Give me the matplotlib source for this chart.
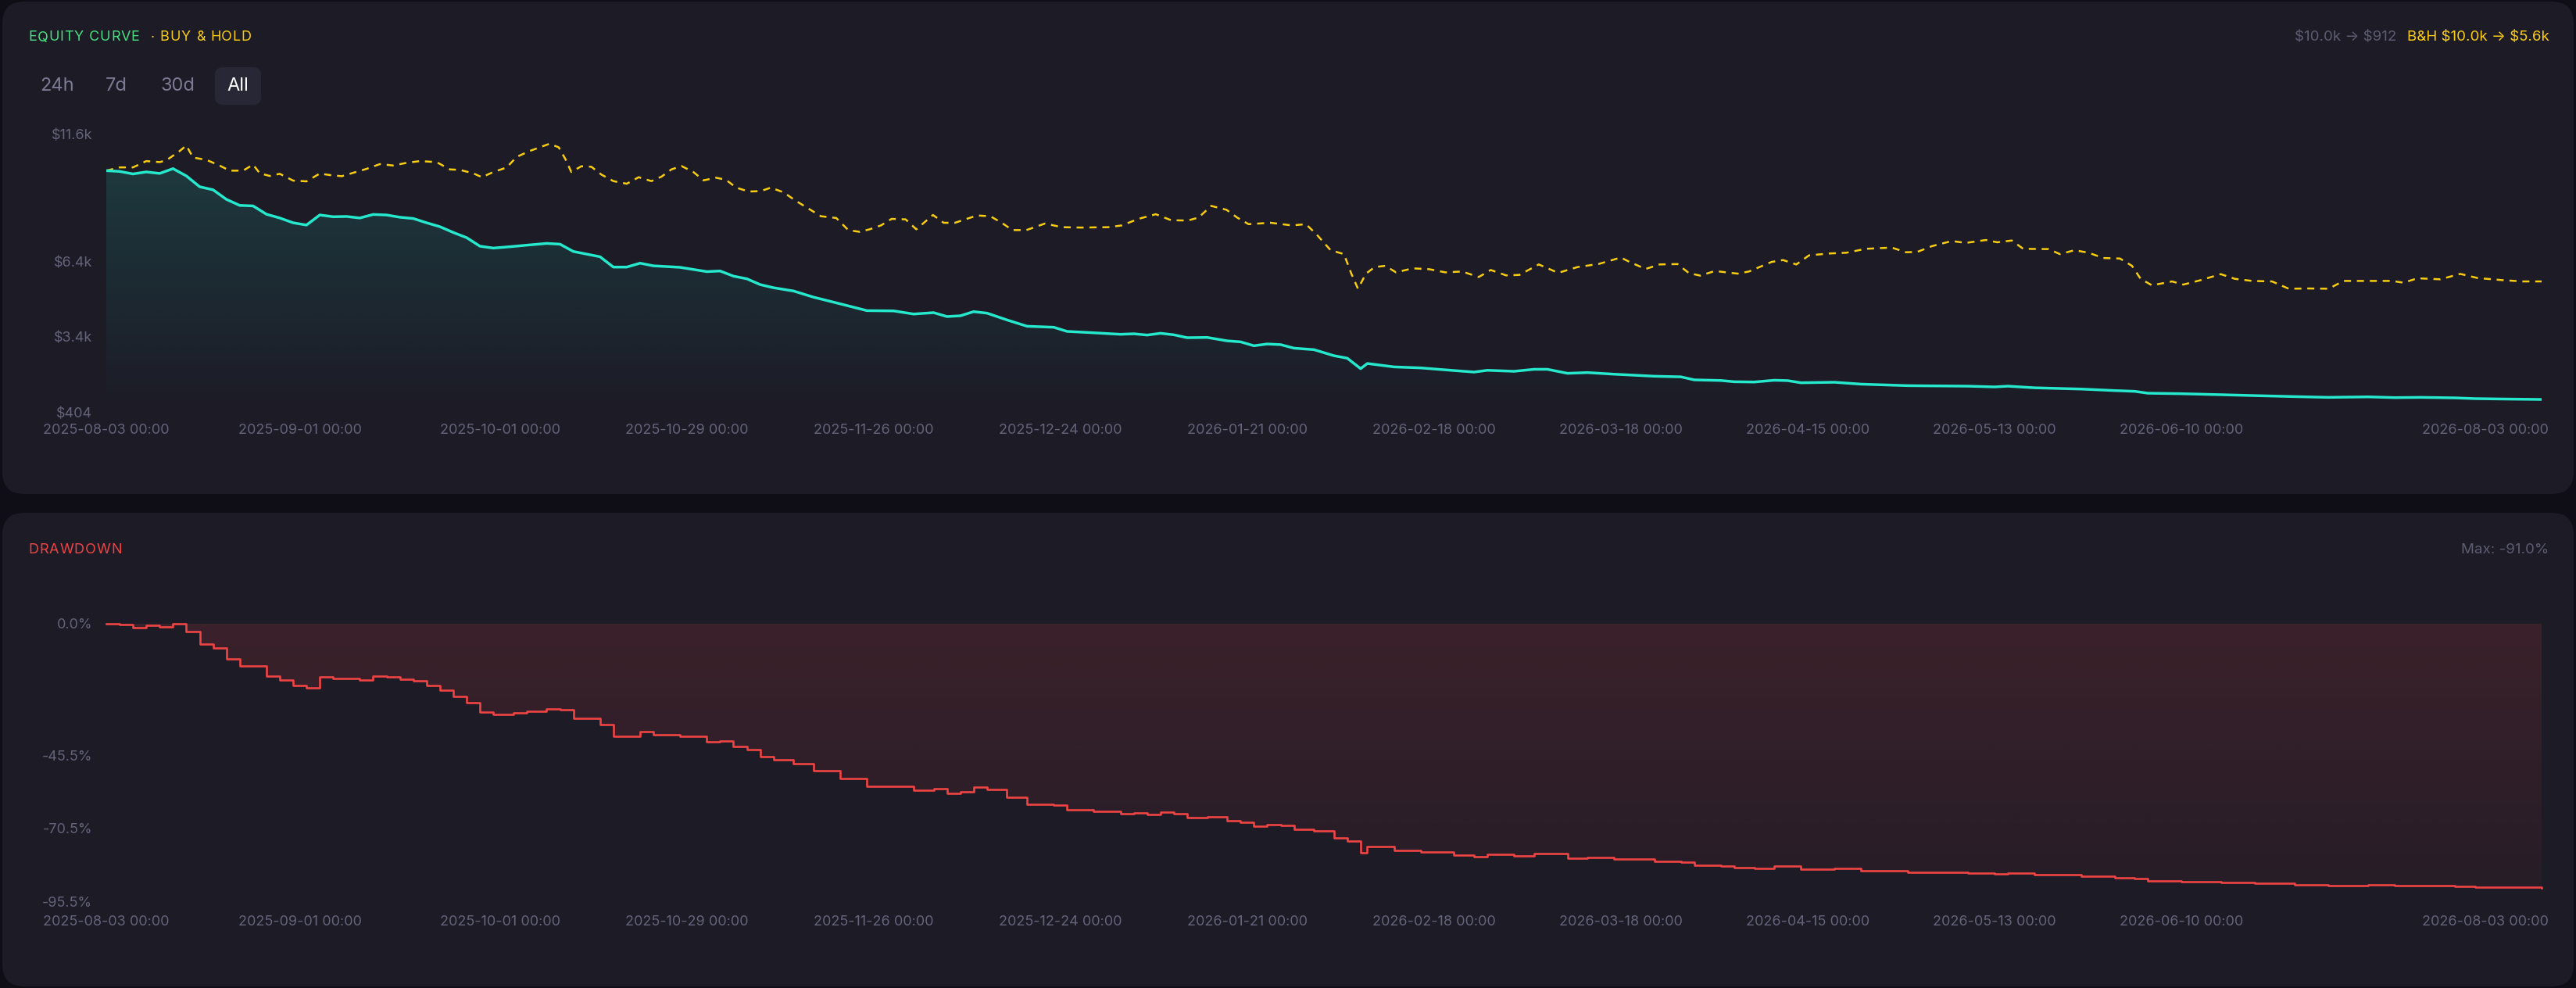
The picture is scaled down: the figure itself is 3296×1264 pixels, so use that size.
import numpy as np
import matplotlib
matplotlib.use("Agg")
import matplotlib.pyplot as plt
import matplotlib.colors as mcolors
import matplotlib.transforms as mt
from matplotlib.patches import FancyBboxPatch

plt.rcParams['font.family'] = ['Inter', 'DejaVu Sans']

# ---------------- data ----------------
start_date = "2025-08-03"
tick_dates = ["2025-08-03", "2025-09-01", "2025-10-01", "2025-10-29", "2025-11-26",
              "2025-12-24", "2026-01-21", "2026-02-18", "2026-03-18", "2026-04-15",
              "2026-05-13", "2026-06-10", "2026-08-03"]
tick_labels = [d + " 00:00" for d in tick_dates]

# strategy equity: day offset from start, value in $
eq_days = [0, 2, 4, 6, 8, 10, 12, 14, 16, 18, 20, 22, 24, 26, 28, 30, 32, 34, 36, 38,
           40, 42, 44, 46, 48, 50, 52, 54, 56, 58, 61, 63, 66, 68, 70, 74, 76, 78, 80, 82,
           86, 90, 92, 94, 96, 98, 100, 103, 106, 110, 114, 118, 121, 124, 126, 128, 130, 132, 135, 138,
           142, 144, 148, 152, 154, 156, 158, 160, 162, 165, 168, 170, 172, 174, 176, 178, 181, 184, 186, 188,
           189, 193, 197, 202, 205, 207, 211, 214, 216, 219, 222, 226, 232, 236, 238, 242, 244, 247, 250, 252,
           254, 259, 263, 270, 279, 283, 285, 289, 296, 301, 304, 306, 311, 317, 322, 328, 333, 339, 343, 347,
           352, 355, 359, 365]
eq_values = [10000, 9970, 9870, 9950, 9890, 10080, 9790, 9360, 9240, 8860, 8620, 8600, 8270, 8120, 7930, 7840, 8240, 8170, 8180, 8120,
             8260, 8240, 8150, 8100, 7930, 7775, 7545, 7340, 7000, 6925, 6990, 7040, 7110, 7080, 6790, 6580, 6170, 6170, 6325, 6220,
             6160, 5990, 6015, 5810, 5705, 5475, 5350, 5220, 4975, 4710, 4440, 4430, 4305, 4360, 4205, 4235, 4400, 4340, 4070, 3820,
             3780, 3615, 3560, 3500, 3520, 3470, 3540, 3480, 3365, 3375, 3240, 3200, 3045, 3115, 3090, 2950, 2890, 2650, 2550, 2135,
             2340, 2205, 2165, 2060, 2000, 2070, 2030, 2110, 2110, 1950, 1980, 1915, 1835, 1810, 1690, 1665, 1615, 1605, 1675, 1660,
             1575, 1595, 1520, 1460, 1440, 1410, 1440, 1375, 1325, 1265, 1235, 1160, 1140, 1100, 1065, 1025, 995, 1015, 985, 995,
             975, 945, 930, 912]

# buy & hold equity
bh_days = [0, 2, 4, 6, 8, 9, 11, 12, 13, 15, 17, 18.5, 20.5, 22, 23, 24.5, 26, 28, 30, 32,
           33.5, 35.3, 37, 39, 41, 43, 45, 47, 49.5, 51.5, 53, 55, 56.3, 58, 60, 61.5, 63.4, 65, 66.4, 67.8,
           68.8, 69.7, 71.2, 72.7, 74.2, 76, 78, 79.8, 81.7, 83.2, 84.7, 86.2, 88, 89.5, 91.4, 92.9, 94.4, 96.3, 98.1, 99.6,
           101.5, 103.3, 105.2, 107.1, 109.4, 111.2, 112.9, 114.4, 116.1, 117.7, 119.8, 121.4, 123.9, 125.5, 127.2, 130.5, 132.5, 134.2, 135.8, 137.9,
           140.7, 143.2, 146.1, 150.2, 152.2, 154.7, 157.3, 159.6, 162.1, 163.7, 165.6, 167.9, 169.5, 171.2, 174.5, 177.7, 179.8, 181.4, 183.5, 185.5,
           186.6, 187.6, 188.8, 190.1, 191.7, 193.3, 195.8, 198.3, 200.7, 203.2, 205.7, 207.5, 209.8, 211.8, 214.7, 217.6, 220.5, 223.7, 227, 228.3,
           230.7, 232.8, 235.5, 237.2, 238.9, 241.1, 242.8, 244.5, 246.2, 249.6, 251.3, 253.3, 255.2, 258.2, 260.8, 263.7, 267.6, 269.7, 271.4, 273.6,
           276.6, 278.7, 281.7, 283.4, 285.6, 287.3, 291.1, 292.8, 295, 297.1, 299.3, 301.8, 303.6, 304.9, 306.6, 309.6, 311.3, 313.9, 316.9, 319,
           321.6, 324.6, 327.1, 330.1, 333.1, 335.3, 338.7, 342.6, 344.3, 346.4, 349.8, 352.8, 355.4, 359.2, 362.2, 365]
bh_values = [10000, 10130, 10130, 10380, 10340, 10410, 10780, 11000, 10520, 10430, 10200, 10000, 10000, 10240, 9895, 9790, 9875, 9605, 9575, 9885,
             9825, 9780, 9915, 10070, 10260, 10205, 10310, 10380, 10340, 10050, 10030, 9895, 9740, 9945, 10125, 10545, 10775, 10930, 11065, 10930,
             10465, 9945, 10175, 10155, 9845, 9585, 9480, 9740, 9585, 9760, 10050, 10185, 9945, 9615, 9720, 9635, 9325, 9170, 9190, 9325,
             9140, 8810, 8500, 8190, 8120, 7640, 7570, 7670, 7825, 8085, 8065, 7670, 8240, 7930, 7930, 8220, 8190, 7930, 7640, 7640,
             7900, 7755, 7740, 7755, 7825, 8085, 8270, 8030, 8020, 8135, 8600, 8445, 8135, 7875, 7930, 7825, 7875, 7465, 6840, 6685,
             5910, 5310, 5910, 6170, 6220, 5960, 6120, 6085, 5960, 5995, 5775, 6055, 5840, 5860, 6275, 5940, 6170, 6295, 6550, 6375,
             6095, 6275, 6290, 5930, 5830, 6015, 5960, 5910, 5995, 6375, 6450, 6275, 6635, 6710, 6740, 6895, 6945, 6760, 6770, 7000,
             7205, 7130, 7245, 7155, 7225, 6895, 6885, 6685, 6840, 6740, 6530, 6510, 6220, 5705, 5445, 5600, 5475, 5650, 5890, 5705,
             5620, 5600, 5310, 5320, 5310, 5620, 5620, 5620, 5550, 5725, 5685, 5900, 5735, 5650, 5600, 5600]

eq_ticks = [404, 3400, 6400, 11600]
eq_tick_labels = ["$404", "$3.4k", "$6.4k", "$11.6k"]
dd_ticks = [0.0, -45.5, -70.5, -95.5]
dd_tick_labels = ["0.0%", "-45.5%", "-70.5%", "-95.5%"]
ranges = ["24h", "7d", "30d", "All"]
strategy_summary = "\\$10.0k → \\$912"
bh_summary = "B&H \\$10.0k → \\$5.6k"
max_dd_text = "Max: -91.0%"

# ---------------- derived ----------------
eq_x = np.array(eq_days, dtype=float)
eq_y = np.array(eq_values, dtype=float)
bh_x = np.array(bh_days, dtype=float)
bh_y = np.array(bh_values, dtype=float)
dd_y = (eq_y / np.maximum.accumulate(eq_y) - 1.0) * 100.0
t0 = np.datetime64(start_date)
tick_x = [(np.datetime64(d) - t0).astype(int) for d in tick_dates]
span = float(tick_x[-1])

# ---------------- style ----------------
W, H = 3296, 1264
BG = "#0f0e17"
CARD = "#1c1b26"
GRID_TXT = "#64637a"
TEAL = "#26e8cc"
GOLD = "#f8cc10"
RED = "#ef4444"

fig = plt.figure(figsize=(W / 100, H / 100), dpi=100)
fig.patch.set_facecolor(BG)
renderer = fig.canvas.get_renderer()

bg = fig.add_axes([0, 0, 1, 1], zorder=-5)
bg.set_xlim(0, W)
bg.set_ylim(H, 0)
bg.axis("off")
for (y0, y1) in [(2, 632), (656, 1262)]:
    bg.add_patch(FancyBboxPatch((3, y0), W - 6, y1 - y0,
                                boxstyle="round,pad=0,rounding_size=28",
                                fc=CARD, ec="none"))


def text_width(s, **kw):
    t = bg.text(0, 0, s + "|", **kw)
    w1 = t.get_window_extent(renderer).width
    t.remove()
    t = bg.text(0, 0, "|", **kw)
    w0 = t.get_window_extent(renderer).width
    t.remove()
    return w1 - w0


def tracked_text(x, y, s, track, **kw):
    for i, ch in enumerate(s):
        if ch == " ":
            continue
        off = text_width(s[:i], **kw) if i else 0.0
        bg.text(x + off + i * track, y, ch, ha="left", va="center", **kw)


# header texts
tracked_text(36, 48, "EQUITY CURVE", 0.8, color="#4ade80", fontsize=13)
tracked_text(193, 48, "· BUY & HOLD", 0.8, color="#facc15", fontsize=13)
bg.text(3066, 48, strategy_summary, color="#5d5c72", fontsize=13.5, va="center", ha="right")
bg.text(3262, 48, bh_summary, color="#facc15", fontsize=13.5, va="center", ha="right")
bg.add_patch(FancyBboxPatch((275, 86), 59, 48, boxstyle="round,pad=0,rounding_size=10",
                            fc="#282736", ec="none"))
btn_x = [73, 149, 227, 304]
for lab, bx in zip(ranges, btn_x):
    bg.text(bx, 110, lab, color="#ffffff" if lab == "All" else "#7d7b93",
            fontsize=17, va="center", ha="center")
tracked_text(36, 704, "DRAWDOWN", 1.0, color=RED, fontsize=13)
bg.text(3261, 704, max_dd_text, color="#5d5c72", fontsize=13.5, va="center", ha="right")


def gradient_under(ax, coll, color, a_top, a_bot, y_top, y_bot):
    path = coll.get_paths()[0]
    rgb = mcolors.to_rgb(color)
    n = 256
    arr = np.zeros((n, 2, 4))
    arr[:, :, :3] = rgb
    arr[:, :, 3] = np.linspace(a_top, a_bot, n)[:, None]
    im = ax.imshow(arr, aspect="auto", extent=[0, span, y_bot, y_top],
                   origin="upper", zorder=1, interpolation="bilinear")
    im.set_clip_path(path, transform=ax.transData)
    coll.remove()


def style_axes(ax, xpad):
    ax.set_facecolor("none")
    for s in ax.spines.values():
        s.set_visible(False)
    ax.tick_params(length=0, colors=GRID_TXT, labelsize=13)
    ax.tick_params(axis="y", pad=13)
    ax.tick_params(axis="x", pad=xpad)
    ax.set_xticks(tick_x)
    ax.set_xticklabels(tick_labels)
    labs = ax.get_xticklabels()
    labs[-1].set_ha("right")
    labs[-1].set_transform(labs[-1].get_transform() + mt.ScaledTranslation(0.09, 0, fig.dpi_scale_trans))


# ---------------- equity panel ----------------
ax1 = fig.add_axes([136 / W, 1 - 527.4 / H, 3116 / W, (527.4 - 166.8) / H])
coll = ax1.fill_between(eq_x, eq_y, 404, color=TEAL, lw=0)
gradient_under(ax1, coll, TEAL, 0.17, 0.0, 11600, 404)
ax1.plot(bh_x, bh_y, color=GOLD, lw=1.8, dashes=(3.6, 3.0), zorder=3)
ax1.plot(eq_x, eq_y, color=TEAL, lw=2.5, zorder=4, solid_joinstyle="round")
ax1.set_xlim(0, span)
ax1.set_ylim(404, 11600)
ax1.set_yticks(eq_ticks)
ax1.set_yticklabels(eq_tick_labels)
style_axes(ax1, 10.5)
ax1.get_yticklabels()[-1].set_transform(ax1.get_yticklabels()[-1].get_transform()
                                        + mt.ScaledTranslation(0, -0.05, fig.dpi_scale_trans))

# ---------------- drawdown panel ----------------
ax2 = fig.add_axes([136 / W, 1 - 1153 / H, 3116 / W, (1153 - 797.7) / H])
coll2 = ax2.fill_between(eq_x, dd_y, 0, step="post", color=RED, lw=0)
gradient_under(ax2, coll2, RED, 0.15, 0.05, 0, dd_y.min())
ax2.step(eq_x, dd_y, where="post", color=RED, lw=1.9, zorder=4, clip_on=False)
ax2.set_xlim(0, span)
ax2.set_ylim(-95.5, 0)
ax2.set_yticks(dd_ticks)
ax2.set_yticklabels(dd_tick_labels)
style_axes(ax2, 13)

fig.savefig("out.png", dpi=100, facecolor=BG)
